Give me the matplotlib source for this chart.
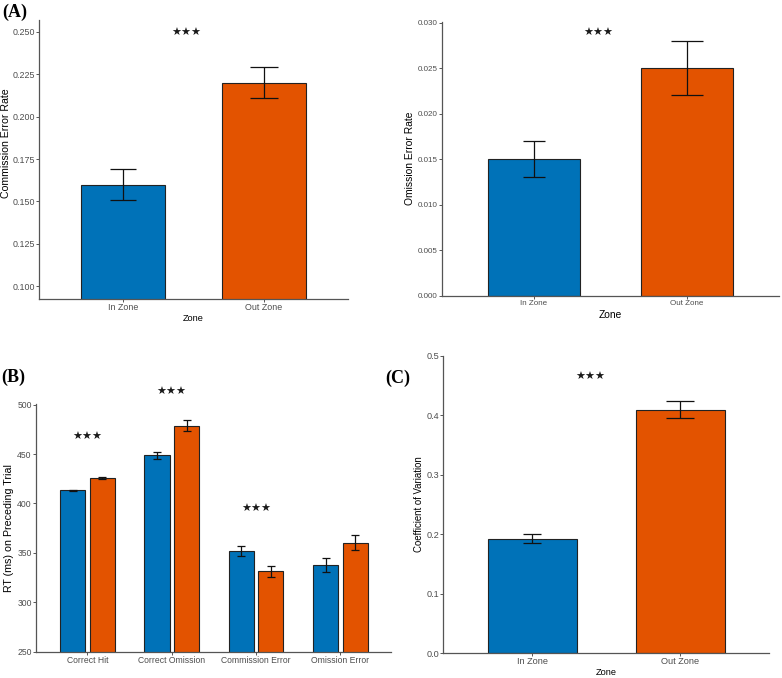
import numpy as np
import matplotlib
matplotlib.use('Agg')
import matplotlib.pyplot as plt

plt.rcParams['font.family'] = ['Liberation Sans', 'DejaVu Sans']

zones = ['In Zone', 'Out Zone']
blue = '#0072B8'
orange = '#E35300'

# panel A (left): commission error rate
comm_rate = [0.160, 0.220]
comm_err = [0.009, 0.009]
# panel A (right): omission error rate
om_rate = [0.015, 0.025]
om_err = [0.002, 0.003]
# panel B: RT on preceding trial
trial_types = ['Correct Hit', 'Correct Omission', 'Commission Error', 'Omission Error']
rt_in = [413.2, 448.9, 352.0, 337.8]
rt_in_err = [0.8, 3.4, 4.9, 7.0]
rt_out = [426.0, 478.8, 331.4, 360.4]
rt_out_err = [1.3, 5.5, 5.4, 7.9]
rt_stars = [(1, 467), (2, 513), (3, 394)]
# panel C: coefficient of variation
cv = [0.1926, 0.4093]
cv_err = [0.0078, 0.014]

axis_col = '#555555'
tick_col = '#4D4D4D'
stars = '\u2605\u2605\u2605'


def style(ax, tick_fs):
    for s in ['top', 'right']:
        ax.spines[s].set_visible(False)
    for s in ['left', 'bottom']:
        ax.spines[s].set_color(axis_col)
        ax.spines[s].set_linewidth(0.9)
    ax.tick_params(axis='both', colors=axis_col, labelcolor=tick_col,
                   labelsize=tick_fs, length=2, width=0.7, pad=1)


def zone_bars(ax, vals, errs, ylim, ticks, fmt, ylab, ylab_fs, tick_fs, star_xy, xlab_fs, caps, xpad=1):
    x = np.arange(1, len(zones) + 1)
    ax.bar(x, vals, width=0.6, color=[blue, orange], edgecolor='#222222', linewidth=0.8,
           zorder=2)
    for xi, v, e, c in zip(x, vals, errs, caps):
        ax.errorbar(xi, v, yerr=e, fmt='none', ecolor='#111111', elinewidth=0.9,
                    capsize=c, capthick=0.9, zorder=3)
    ax.set_xlim(0.4, 2.6)
    ax.set_ylim(*ylim)
    ax.set_yticks(ticks)
    ax.set_yticklabels([fmt.format(t) for t in ticks])
    ax.set_xticks(x)
    ax.set_xticklabels(zones)
    ax.set_ylabel(ylab, fontsize=ylab_fs, labelpad=2)
    ax.set_xlabel('Zone', fontsize=xlab_fs, labelpad=xpad)
    ax.text(star_xy[0], star_xy[1], stars, ha='center', va='center', fontsize=8,
            family='DejaVu Sans', color='#1a1a1a')
    style(ax, tick_fs)


fig = plt.figure(figsize=(7.82, 6.78), dpi=100)

ax1 = fig.add_axes([0.0499, 0.559, 0.395, 0.4115])
zone_bars(ax1, comm_rate, comm_err, (0.0925, 0.257), [0.100, 0.125, 0.150, 0.175, 0.200, 0.225, 0.250],
          '{:.3f}', 'Commission Error Rate', 7.6, 6.4, (1.45, 0.2495), 6.6, (9.7, 10.4))
ax1.yaxis.set_label_coords(-0.09, 0.56)

ax2 = fig.add_axes([0.5648, 0.5639, 0.4313, 0.4041])
zone_bars(ax2, om_rate, om_err, (0, 0.0301), [0.000, 0.005, 0.010, 0.015, 0.020, 0.025, 0.030],
          '{:.3f}', 'Omission Error Rate', 7.4, 5.8, (1.42, 0.0289), 7.4, (7.7, 11.8), xpad=2.5)

ax3 = fig.add_axes([0.046, 0.0388, 0.454, 0.3658])
xc = np.arange(1, len(trial_types) + 1)
ax3.bar(xc - 0.175, rt_in, width=0.3, color=blue, edgecolor='#222222', linewidth=0.8, zorder=2)
ax3.bar(xc + 0.175, rt_out, width=0.3, color=orange, edgecolor='#222222', linewidth=0.8, zorder=2)
ax3.errorbar(xc - 0.175, rt_in, yerr=rt_in_err, fmt='none', ecolor='#111111', elinewidth=0.9,
             capsize=2.6, capthick=0.9, zorder=3)
ax3.errorbar(xc + 0.175, rt_out, yerr=rt_out_err, fmt='none', ecolor='#111111', elinewidth=0.9,
             capsize=2.6, capthick=0.9, zorder=3)
ax3.set_xlim(0.39, 4.6)
ax3.set_ylim(250, 501)
ax3.set_yticks([250, 300, 350, 400, 450, 500])
ax3.set_xticks(xc)
ax3.set_xticklabels(trial_types)
ax3.set_ylabel('RT (ms) on Preceding Trial', fontsize=7.7, labelpad=2)
for sx, sy in rt_stars:
    ax3.text(sx, sy, stars, ha='center', va='center', fontsize=8, family='DejaVu Sans',
             color='#1a1a1a')
style(ax3, 6.2)

ax4 = fig.add_axes([0.5669, 0.0364, 0.4169, 0.4389])
zone_bars(ax4, cv, cv_err, (0, 0.5), [0.0, 0.1, 0.2, 0.3, 0.4, 0.5],
          '{:.1f}', 'Coefficient of Variation', 6.9, 6.6, (1.39, 0.465), 6.7, (6.8, 10.3))

serif = ['Liberation Serif', 'DejaVu Serif']
fig.text(2 / 782, 1 - 12 / 678, '(A)', fontsize=13, fontweight='bold', family=serif, va='center')
fig.text(1 / 782, 1 - 377 / 678, '(B)', fontsize=13, fontweight='bold', family=serif, va='center')
fig.text(385 / 782, 1 - 378 / 678, '(C)', fontsize=13, fontweight='bold', family=serif, va='center')

fig.savefig('out.png', dpi=100)
